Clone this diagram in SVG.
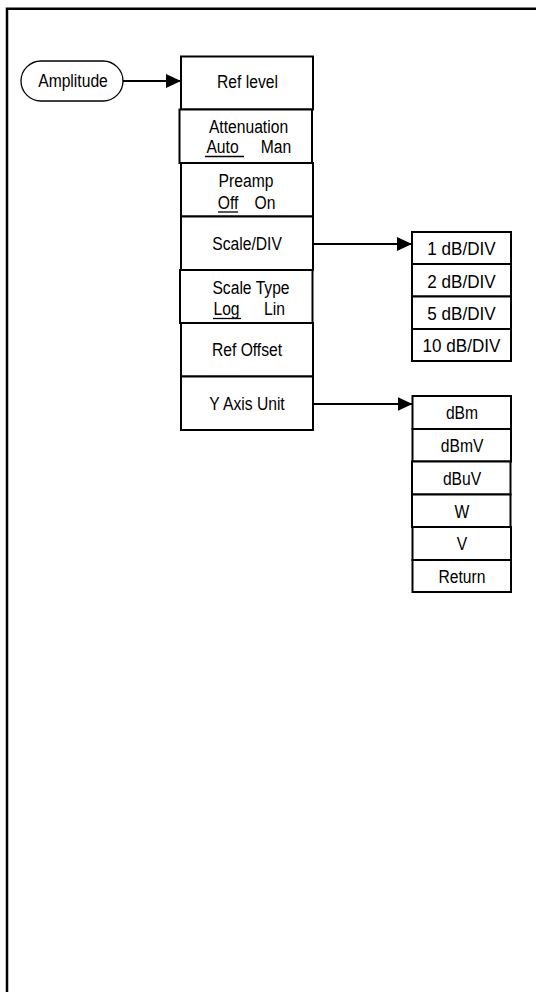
<svg xmlns="http://www.w3.org/2000/svg" width="536" height="992" viewBox="0 0 536 992">
<style>
.box{fill:#fff;stroke:#000;stroke-width:2}
.pill{fill:#fff;stroke:#000;stroke-width:1.3}
.t{font-family:"Liberation Sans",Arial,sans-serif;font-size:18px;fill:#000;text-anchor:middle;transform-box:fill-box;transform-origin:center;transform:scale(0.87,1)}
.t.w{transform:scale(0.95,1)}
.ul{stroke:#000;stroke-width:1.3}
.conn{stroke:#000;stroke-width:2;fill:none}
.frame{stroke:#000;stroke-width:2.5;fill:none}
</style>
<defs>
<marker id="ah" markerUnits="userSpaceOnUse" markerWidth="15" markerHeight="14" refX="15" refY="7" orient="auto">
<path d="M0,0 L15,7 L0,14 z" fill="#000"/>
</marker>
</defs>
<path class="frame" d="M7,992 V8.7 H536"/>
<g id="amplitude">
<rect class="pill" x="21" y="61" width="102" height="40" rx="20"/>
<text class="t" x="73" y="87.5">Amplitude</text>
</g>
<g id="ref_level">
<rect class="box" x="181" y="56.5" width="132" height="53"/>
<text class="t" x="247.5" y="88.5">Ref level</text>
</g>
<g id="attenuation">
<rect class="box" x="179.5" y="109.5" width="132.5" height="53.5"/>
<text class="t" x="248.5" y="133.5">Attenuation</text>
<text class="t" x="222.5" y="153.5">Auto</text>
<text class="t" x="276" y="153.5">Man</text>
<line class="ul" x1="205" y1="156.5" x2="244" y2="156.5"/>
</g>
<g id="preamp">
<rect class="box" x="181" y="163" width="132" height="53.5"/>
<text class="t" x="246" y="187.5">Preamp</text>
<text class="t" x="228" y="209">Off</text>
<text class="t" x="265" y="209">On</text>
<line class="ul" x1="218" y1="212" x2="238" y2="212"/>
</g>
<g id="scale_div">
<rect class="box" x="181" y="216.5" width="132" height="53.5"/>
<text class="t" x="247" y="250">Scale/DIV</text>
</g>
<g id="scale_type">
<rect class="box" x="180" y="270" width="132.5" height="53"/>
<text class="t" x="251" y="294">Scale Type</text>
<text class="t" x="226.5" y="315.5">Log</text>
<text class="t" x="274.5" y="315.5">Lin</text>
<line class="ul" x1="213" y1="318.5" x2="241" y2="318.5"/>
</g>
<g id="ref_offset">
<rect class="box" x="181" y="323" width="132" height="53.5"/>
<text class="t" x="247" y="356.5">Ref Offset</text>
</g>
<g id="y_axis_unit">
<rect class="box" x="181" y="376.5" width="132" height="53.5"/>
<text class="t" x="247" y="410.5">Y Axis Unit</text>
</g>
<g id="db_1">
<rect class="box" x="412" y="232" width="99" height="32"/>
<text class="t w" x="461.5" y="255.5">1 dB/DIV</text>
</g>
<g id="db_2">
<rect class="box" x="412" y="264" width="99" height="32.5"/>
<text class="t w" x="461.5" y="288">2 dB/DIV</text>
</g>
<g id="db_5">
<rect class="box" x="412" y="296.5" width="99" height="32.5"/>
<text class="t w" x="461.5" y="320.5">5 dB/DIV</text>
</g>
<g id="db_10">
<rect class="box" x="412" y="329" width="99" height="32"/>
<text class="t w" x="461.5" y="352.5">10 dB/DIV</text>
</g>
<g id="dbm">
<rect class="box" x="412.5" y="396" width="98.5" height="33"/>
<text class="t" x="462" y="419.5">dBm</text>
</g>
<g id="dbmv">
<rect class="box" x="412.5" y="429" width="98.5" height="32.5"/>
<text class="t" x="462" y="452">dBmV</text>
</g>
<g id="dbuv">
<rect class="box" x="412" y="461.5" width="98.5" height="33"/>
<text class="t" x="462" y="485">dBuV</text>
</g>
<g id="w">
<rect class="box" x="412" y="494.5" width="98.5" height="32.5"/>
<text class="t" x="462" y="518">W</text>
</g>
<g id="v">
<rect class="box" x="412.5" y="527" width="98.5" height="33"/>
<text class="t" x="462" y="550.5">V</text>
</g>
<g id="return">
<rect class="box" x="412.5" y="560" width="98.5" height="32"/>
<text class="t" x="462" y="583">Return</text>
</g>
<g id="connectors">
<line class="conn" x1="123" y1="81" x2="181" y2="81" marker-end="url(#ah)"/>
<line class="conn" x1="313" y1="244" x2="412" y2="244" marker-end="url(#ah)"/>
<line class="conn" x1="313" y1="404" x2="412.5" y2="404" marker-end="url(#ah)"/>
</g>
</svg>
